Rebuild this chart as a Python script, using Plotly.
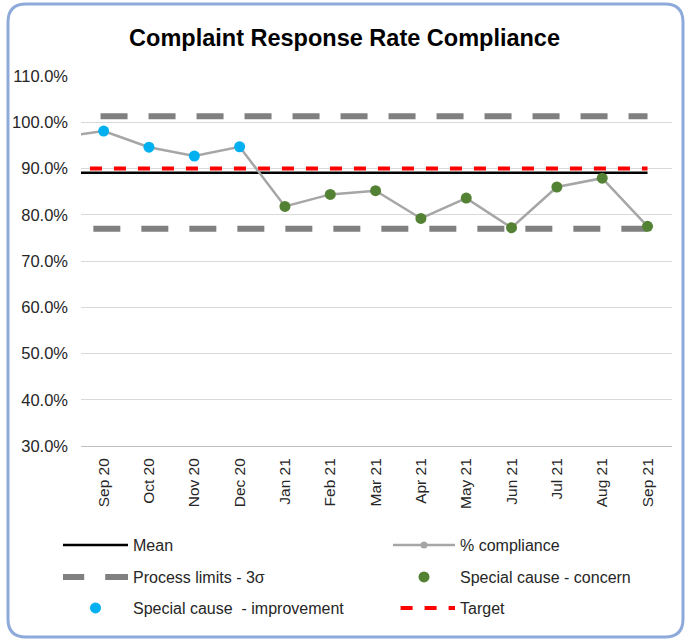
import plotly.graph_objects as go

# ---- data -------------------------------------------------------------
months = ["Aug 20", "Sep 20", "Oct 20", "Nov 20", "Dec 20", "Jan 21", "Feb 21",
          "Mar 21", "Apr 21", "May 21", "Jun 21", "Jul 21", "Aug 21", "Sep 21"]
compliance = [96.7, 98.1, 94.6, 92.7, 94.7, 81.8, 84.4,
              85.2, 79.2, 83.6, 77.2, 86.0, 87.9, 77.5]
special_cause = [None, "improvement", "improvement", "improvement", "improvement",
                 "concern", "concern", "concern", "concern", "concern",
                 "concern", "concern", "concern", "concern"]
mean_value = 89.1
upper_limit = 101.3
lower_limit = 77.0
target_value = 90.0

# ---- page geometry (pixels) -------------------------------------------
W, H = 685, 642
L, R, T, B = 81, 672, 76, 446          # plot area edges
FONT = "Arial, 'Liberation Sans', sans-serif"


def paper_x(x):
    return (x - L) / (R - L)


def paper_y(y):
    return (B - y) / (B - T)


n = len(months)
improvement = [v if s == "improvement" else None for v, s in zip(compliance, special_cause)]
concern = [v if s == "concern" else None for v, s in zip(compliance, special_cause)]

fig = go.Figure()

fig.add_trace(go.Scatter(
    x=months, y=[upper_limit] * n, mode="lines", name="Process limits - 3σ",
    line=dict(color="#808080", width=6, dash="21.2px,21px,5.8px,0px"),
    legend="legend3", legendgroup="limits", showlegend=True, hoverinfo="skip"))
fig.add_trace(go.Scatter(
    x=months, y=[lower_limit] * n, mode="lines", name="Process limits - 3σ",
    line=dict(color="#808080", width=6, dash="14px,21px,13px,0px"),
    legend="legend3", legendgroup="limits", showlegend=False, hoverinfo="skip"))
fig.add_trace(go.Scatter(
    x=months, y=[mean_value] * n, mode="lines", name="Mean",
    line=dict(color="#000000", width=2.5), legend="legend", showlegend=True,
    hoverinfo="skip"))
fig.add_trace(go.Scatter(
    x=months, y=[target_value] * n, mode="lines", name="Target",
    line=dict(color="#ff0000", width=4, dash="0px,7.6px,12px,4.4px"),
    legend="legend6", hoverinfo="skip"))
fig.add_trace(go.Scatter(
    x=months, y=compliance, mode="lines+markers", name="% compliance",
    line=dict(color="#a6a6a6", width=2.5),
    marker=dict(color="#a6a6a6", size=7), legend="legend2"))
fig.add_trace(go.Scatter(
    x=months, y=concern, mode="markers", name="Special cause - concern",
    marker=dict(color="#548235", size=11), legend="legend4"))
fig.add_trace(go.Scatter(
    x=months, y=improvement, mode="markers", name="Special cause  - improvement",
    marker=dict(color="#00b0f0", size=11), legend="legend5"))


def legend_box(x_px, y_px, item_w):
    return dict(
        xref="container", yref="container",
        x=x_px / W, y=1 - y_px / H, xanchor="left", yanchor="middle",
        itemwidth=item_w, bgcolor="rgba(0,0,0,0)", borderwidth=0,
        font=dict(family=FONT, size=16, color="#262626"),
    )


# rounded outer frame
r = 18
fl, fr, ft, fb = 8, 683, 4, 637
frame_path = (
    f"M {paper_x(fl + r)},{paper_y(ft)} L {paper_x(fr - r)},{paper_y(ft)} "
    f"Q {paper_x(fr)},{paper_y(ft)} {paper_x(fr)},{paper_y(ft + r)} "
    f"L {paper_x(fr)},{paper_y(fb - r)} "
    f"Q {paper_x(fr)},{paper_y(fb)} {paper_x(fr - r)},{paper_y(fb)} "
    f"L {paper_x(fl + r)},{paper_y(fb)} "
    f"Q {paper_x(fl)},{paper_y(fb)} {paper_x(fl)},{paper_y(fb - r)} "
    f"L {paper_x(fl)},{paper_y(ft + r)} "
    f"Q {paper_x(fl)},{paper_y(ft)} {paper_x(fl + r)},{paper_y(ft)} Z"
)

fig.update_layout(
    width=W, height=H, showlegend=True,
    margin=dict(l=L, r=W - R, t=T, b=H - B, autoexpand=False),
    paper_bgcolor="white", plot_bgcolor="white",
    font=dict(family=FONT, color="#262626"),
    title=dict(text="<b>Complaint Response Rate Compliance</b>",
               x=0.503, xanchor="center", y=1 - 38 / H, yanchor="middle",
               font=dict(family=FONT, size=23.5, color="#000000")),
    xaxis=dict(type="category", categoryorder="array", categoryarray=months,
               range=[0.5, 13.54], showgrid=False, zeroline=False,
               tickangle=-90, ticks="", ticklabelstandoff=5,
               tickfont=dict(family=FONT, size=15.5, color="#262626"),
               showline=True, linecolor="#bfbfbf", linewidth=1),
    yaxis=dict(range=[30, 110], dtick=10, tick0=30, tickformat=".1f",
               ticksuffix="%", showgrid=True, gridcolor="#d9d9d9", gridwidth=1,
               zeroline=False, ticks="", ticklabelstandoff=12,
               tickfont=dict(family=FONT, size=16.5, color="#262626")),
    legend=legend_box(58, 545, 65),
    legend2=legend_box(388, 545, 62),
    legend3=legend_box(58, 577, 65),
    legend4=legend_box(388, 577, 62),
    legend5=legend_box(58, 608, 65),
    legend6=legend_box(388, 608, 62),
    shapes=[dict(type="path", xref="paper", yref="paper", path=frame_path,
                 line=dict(color="#8eaadb", width=3), layer="above")],
)

fig.write_html("out.html")
